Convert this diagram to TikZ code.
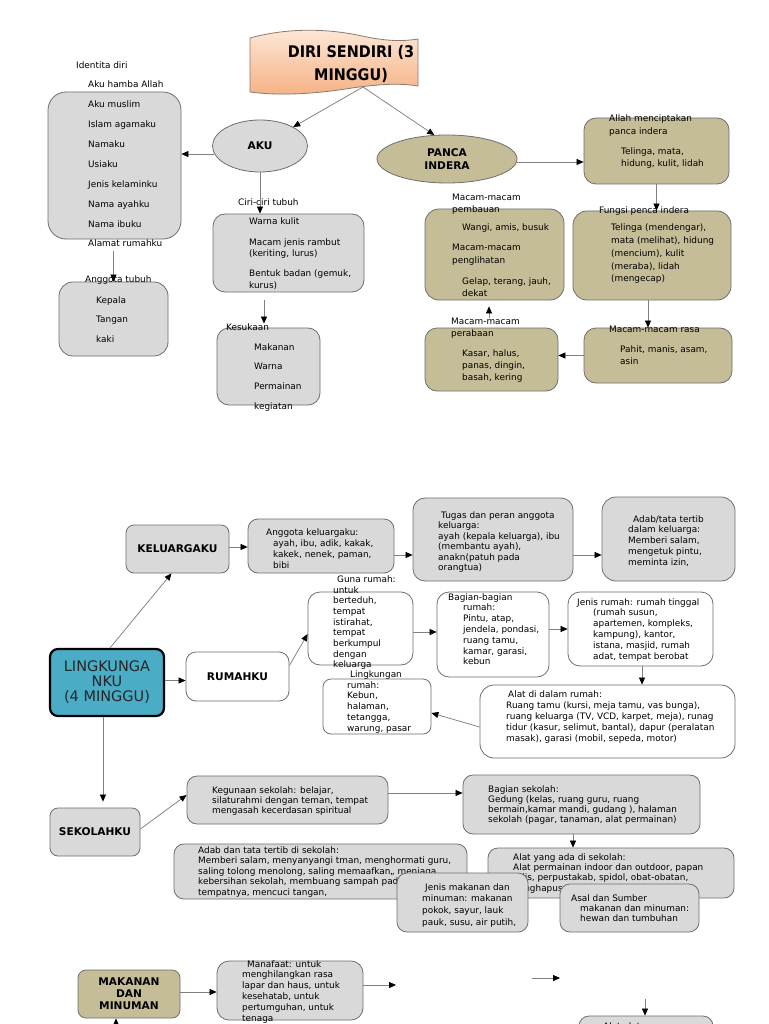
\documentclass[tikz,border=0pt]{standalone}
\usepackage{fontspec}
\setmainfont{DejaVu Sans}
\newfontfamily\titlefont[FakeStretch=0.9]{DejaVu Sans}
\usetikzlibrary{arrows.meta,shapes.geometric,calc}
\newcommand\blk[2]{\fontsize{8.9}{#1}\selectfont\begin{tabular}[t]{@{}l@{}}#2\end{tabular}}
\definecolor{boxgray}{HTML}{D9D9D9}
\definecolor{khaki}{HTML}{C4BD97}
\definecolor{lblue}{HTML}{4BACC6}
\definecolor{bord}{HTML}{6E6E6E}
\definecolor{peachT}{HTML}{FDE9D9}
\definecolor{peachB}{HTML}{F5B184}
\definecolor{titleb}{HTML}{8A7A70}
\tikzset{
  txt/.style={anchor=base west, inner sep=0pt, text=black},
  box/.style={draw=bord, line width=0.8pt, rounded corners=10pt, fill=boxgray},
  kbox/.style={box, fill=khaki},
  wbox/.style={box, fill=white},
  lab/.style={font=\bfseries\fontsize{10.6}{12.5}\selectfont, align=center, text=black},
  arr/.style={draw=gray, line width=0.75pt, -{Triangle[length=7pt,width=6pt,color=black,fill=black]}}
}
\begin{document}
\begin{tikzpicture}[x=1pt,y=-1pt]
\useasboundingbox (0,0) rectangle (768,1024);
\fill[white] (0,0) rectangle (768,1024);

% ---------- Title ----------
\shade[top color=peachT, bottom color=peachB, draw=titleb, line width=0.8pt]
 (250,38) .. controls (290,27) and (330,29) .. (362,36) .. controls (390,42) and (405,41) .. (418,39)
 -- (418,86) .. controls (400,83) and (380,84) .. (352,88) .. controls (315,94) and (280,96) .. (250,92) -- cycle;
\node[font=\titlefont\bfseries\fontsize{16}{23}\selectfont, align=center] (title) at (351,63.5) {DIRI SENDIRI (3\\MINGGU)};
\coordinate (tb) at (363,87);

% ---------- Top-left: AKU ----------
\node[box, minimum width=133pt, minimum height=147pt, rounded corners=18pt] (iden) at (114.5,165.5) {};
\node[box, minimum width=109pt, minimum height=74pt, rounded corners=14pt] (angt) at (113.5,319) {};
\node[box, ellipse, minimum width=95pt, minimum height=52pt, lab] (aku) at (260,146) {AKU};
\node[box, minimum width=151pt, minimum height=78pt, rounded corners=12pt] (ciri) at (288.5,253) {};
\node[box, minimum width=103pt, minimum height=77pt, rounded corners=12pt] (kes) at (268.5,366.5) {};

\node[txt] (tIdent) at (76,68.5) {\blk{11}{Identita diri}};
\node[txt] (tIden) at (88,87.5) {\blk{19.95}{Aku hamba Allah\\Aku muslim\\Islam agamaku\\Namaku\\Usiaku\\Jenis kelaminku\\Nama ayahku\\Nama ibuku}};
\node[txt] (tAlamat) at (88,247) {\blk{11}{Alamat rumahku}};
\node[txt] (tAngT) at (85,282) {\blk{11}{Anggota tubuh}};
\node[txt] (tAngL) at (96,303) {\blk{19.5}{Kepala\\Tangan\\kaki}};
\node[txt] (tCiriT) at (238,206) {\blk{11}{Ciri-ciri tubuh}};
\node[txt] (tCiri1) at (249,225) {\blk{11}{Warna kulit}};
\node[txt] (tCiri2) at (249,245) {\blk{11.5}{Macam jenis rambut\\(keriting, lurus)}};
\node[txt] (tCiri3) at (249,276) {\blk{12.5}{Bentuk badan (gemuk,\\kurus)}};
\node[txt] (tKesT) at (226,330) {\blk{11}{Kesukaan}};
\node[txt] (tKesL) at (254,350) {\blk{19.7}{Makanan\\Warna\\Permainan\\kegiatan}};

% ---------- Top-right: PANCA INDERA ----------
\node[kbox, ellipse, minimum width=140pt, minimum height=48pt, lab, font=\bfseries\fontsize{10.6}{13}\selectfont] (panca) at (447,159) {PANCA\\INDERA};
\node[kbox, minimum width=145pt, minimum height=66pt, rounded corners=12pt] (allah) at (656.5,151) {};
\node[kbox, minimum width=158pt, minimum height=89pt, rounded corners=14pt] (fungsi) at (652,255.5) {};
\node[kbox, minimum width=148pt, minimum height=55pt, rounded corners=12pt] (rasa) at (658,355.5) {};
\node[kbox, minimum width=133pt, minimum height=63pt, rounded corners=12pt] (perab) at (491.5,359.5) {};
\node[kbox, minimum width=139pt, minimum height=91pt, rounded corners=14pt] (pemb) at (494.5,254.5) {};

\node[txt] (tAl1) at (609,122) {\blk{12.5}{Allah menciptakan\\panca indera}};
\node[txt] (tAl2) at (621,155) {\blk{11.5}{Telinga, mata,\\hidung, kulit, lidah}};
\node[txt] (tFu1) at (599,214) {\blk{11}{Fungsi penca indera}};
\node[txt] (tFu2) at (611,231) {\blk{12.7}{Telinga (mendengar),\\mata (melihat), hidung\\(mencium), kulit\\(meraba), lidah\\(mengecap)}};
\node[txt] (tRa1) at (609,332) {\blk{11}{Macam-macam rasa}};
\node[txt] (tRa2) at (620,352) {\blk{12}{Pahit, manis, asam,\\asin}};
\node[txt] (tPe1) at (451,324) {\blk{12}{Macam-macam\\perabaan}};
\node[txt] (tPe2) at (462,356) {\blk{12}{Kasar, halus,\\panas, dingin,\\basah, kering}};
\node[txt] (tPb1) at (452,201) {\blk{12}{Macam-macam\\pembauan}};
\node[txt] (tPb2) at (462,231) {\blk{11}{Wangi, amis, busuk}};
\node[txt] (tPb3) at (452,251) {\blk{13}{Macam-macam\\penglihatan}};
\node[txt] (tPb4) at (462,284) {\blk{12}{Gelap, terang, jauh,\\dekat}};

% ---------- Top connectors ----------
\draw[arr] (tb) -- (aku);
\draw[arr] (tb) -- (panca.118);
\draw[arr] (aku.190) -- (aku.190 -| iden.east);
\draw[arr] (angt.north |- tAlamat.south) -- (angt.north);
\draw[arr] (aku.south) -- (aku.south |- ciri.north);
\coordinate (c1) at (264,300);
\draw[arr] (c1) -- ([yshift=4pt]c1 |- kes.north);
\draw[arr] ([yshift=-3pt]panca.east) -- ([yshift=-3pt]panca.east -| allah.west);
\draw[arr] (allah.south) -- (allah.south |- fungsi.north);
\draw[arr] ([xshift=-4pt]fungsi.south) -- ([xshift=-4pt]fungsi.south |- rasa.north);
\draw[arr] (rasa.west) -- (rasa.west -| perab.east);
\coordinate (p1) at (489,318);
\draw[arr] (p1) -- ([yshift=-6pt]p1 |- pemb.south);

% ---------- Middle: LINGKUNGANKU ----------
\node[box, fill=lblue, draw=black, line width=2.2pt, rounded corners=8pt, minimum width=114pt, minimum height=67pt, font=\fontsize{14.5}{15}\selectfont, align=center, text=black!85] (ling) at (107,682.5) {LINGKUNGA\\NKU\\(4 MINGGU)};
\node[box, minimum width=103pt, minimum height=48pt, rounded corners=8pt, lab] (kel) at (177.5,549) {KELUARGAKU};
\node[box, minimum width=146pt, minimum height=54pt] (angk) at (321,546) {};
\node[box, minimum width=160pt, minimum height=83pt, rounded corners=12pt] (tugas) at (493,539.5) {};
\node[box, minimum width=133pt, minimum height=84pt, rounded corners=14pt] (adab) at (668.5,539) {};
\node[wbox, minimum width=103pt, minimum height=49pt, lab] (rumah) at (237.5,676.5) {RUMAHKU};
\node[wbox, minimum width=105pt, minimum height=73pt, rounded corners=12pt] (guna) at (360.5,628.5) {};
\node[wbox, minimum width=112pt, minimum height=85pt, rounded corners=12pt] (bag) at (493,634.5) {};
\node[wbox, minimum width=145pt, minimum height=74pt, rounded corners=12pt] (jen) at (640.5,629) {};
\node[wbox, minimum width=255pt, minimum height=73pt, rounded corners=14pt] (alr) at (607.5,721.5) {};
\node[wbox, minimum width=108pt, minimum height=55pt, rounded corners=8pt] (lingk) at (377,706.5) {};

\node[txt] (tAngk) at (266,535) {\blk{11}{Anggota keluargaku:\\\hspace*{7pt}ayah, ibu, adik, kakak,\\\hspace*{7pt}kakek, nenek, paman,\\\hspace*{7pt}bibi}};
\node[txt] (tTugas) at (438,518) {\blk{10.5}{\hspace*{3pt}Tugas dan peran anggota\\keluarga:\\ayah (kepala keluarga), ibu\\(membantu ayah),\\anakn(patuh pada\\orangtua)}};
\node[txt] (tAdab) at (628,522) {\blk{10.8}{\hspace*{5pt}Adab/tata tertib\\dalam keluarga:\\Memberi salam,\\mengetuk pintu,\\meminta izin,}};
\node[txt] (tGuna1) at (337,582) {\blk{11}{Guna rumah:}};
\node[txt] (tGuna2) at (333,593) {\blk{10.7}{untuk\\berteduh,\\tempat\\istirahat,\\tempat\\berkumpul\\dengan\\keluarga}};
\node[txt] (tBag) at (448,600) {\blk{10.8}{Bagian-bagian\\\hspace*{15pt}rumah:\\\hspace*{15pt}Pintu, atap,\\\hspace*{15pt}jendela, pondasi,\\\hspace*{15pt}ruang tamu,\\\hspace*{15pt}kamar, garasi,\\\hspace*{15pt}kebun}};
\node[txt] (tJen) at (577,605) {\blk{10.8}{Jenis rumah: rumah tinggal\\\hspace*{16pt}(rumah susun,\\\hspace*{16pt}apartemen, kompleks,\\\hspace*{16pt}kampung), kantor,\\\hspace*{16pt}istana, masjid, rumah\\\hspace*{16pt}adat, tempat berobat}};
\node[txt] (tAlr) at (506,697) {\blk{11}{\hspace*{2pt}Alat di dalam rumah:\\Ruang tamu (kursi, meja tamu, vas bunga),\\ruang keluarga (TV, VCD, karpet, meja), runag\\tidur (kasur, selimut, bantal), dapur (peralatan\\masak), garasi (mobil, sepeda, motor)}};
\node[txt] (tLingk1) at (350,677) {\blk{11}{Lingkungan}};
\node[txt] (tLingk2) at (347,688) {\blk{10.8}{rumah:\\Kebun,\\halaman,\\tetangga,\\warung, pasar}};

\draw[arr] ([xshift=3pt]ling.north) -- ([xshift=-6pt]kel.south);
\draw[arr] ([yshift=2pt]kel.east) -- ([yshift=2pt]kel.east -| angk.west);
\draw[arr] ([yshift=-9pt]angk.east) -- ([yshift=-9pt]angk.east -| tugas.west);
\draw[arr] ([yshift=-15.5pt]tugas.east) -- ([yshift=-15.5pt]tugas.east -| adab.west);
\draw[arr] ([yshift=2pt]ling.east) -- ([yshift=2pt]ling.east -| rumah.west);
\draw[arr] ([yshift=11pt]rumah.east) -- ([yshift=-5.5pt]guna.west);
\draw[arr] ([yshift=-3.5pt]guna.east) -- ([yshift=-3.5pt]guna.east -| bag.west);
\draw[arr] ([yshift=5.5pt]bag.east) -- ([yshift=5.5pt]bag.east -| jen.west);
\draw[arr] ([xshift=1.5pt]jen.south) -- ([xshift=1.5pt]jen.south |- alr.north);
\draw[arr] ([yshift=-5.5pt]alr.west) -- ([yshift=-6.5pt]lingk.east);

% ---------- Bottom: SEKOLAHKU ----------
\node[box, minimum width=90pt, minimum height=48pt, rounded corners=8pt, lab] (sek) at (95,832) {SEKOLAHKU};
\node[box, minimum width=201pt, minimum height=48pt] (keg) at (287.5,800) {};
\node[box, minimum width=237pt, minimum height=59pt] (bsek) at (581.5,804.5) {};
\node[box, minimum width=246pt, minimum height=50pt] (alats) at (611,873) {};
\node[box, minimum width=293pt, minimum height=55pt] (adabs) at (320.5,871.5) {};

\node[txt] (tKeg) at (212,793) {\blk{10.3}{Kegunaan sekolah: belajar,\\silaturahmi dengan teman, tempat\\mengasah kecerdasan spiritual}};
\node[txt] (tBsek) at (488,792) {\blk{10.2}{Bagian sekolah:\\Gedung (kelas, ruang guru, ruang\\bermain,kamar mandi, gudang ), halaman\\sekolah (pagar, tanaman, alat permainan)}};
\node[txt] (tAlats) at (513,860) {\blk{10.4}{Alat yang ada di sekolah:\\Alat permainan indoor dan outdoor, papan\\tulis, perpustakab, spidol, obat-obatan,\\penghapus}};
\node[txt] (tAdabs) at (198,853) {\blk{10.5}{Adab dan tata tertib di sekolah:\\Memberi salam, menyanyangi tman, menghormati guru,\\saling tolong menolong, saling memaafkan,, menjaga\\kebersihan sekolah, membuang sampah pada\\tempatnya, mencuci tangan,}};

\node[box, minimum width=131pt, minimum height=59pt] (jmak) at (462.5,902.5) {};
\node[txt] (tJmak) at (422,890) {\blk{11.7}{\hspace*{3pt}Jenis makanan dan\\minuman: makanan\\pokok, sayur, lauk\\pauk, susu, air putih,}};
\node[box, minimum width=139pt, minimum height=48pt] (asal) at (629.5,908) {};
\node[txt] (tAsal) at (571,901) {\blk{10.2}{Asal dan Sumber\\\hspace*{9pt}makanan dan minuman:\\\hspace*{9pt}hewan dan tumbuhan}};

\draw[arr] ([xshift=-4pt]ling.south) -- ([xshift=-4pt,yshift=6pt]ling.south |- sek.north);
\draw[arr] ([yshift=3pt]sek.east) -- ([yshift=5pt]keg.west);
\draw[arr] ([yshift=7pt]keg.east) -- ([yshift=7pt]keg.east -| bsek.west);
\draw[arr] ([xshift=-8.5pt]bsek.south) -- ([xshift=-8.5pt]bsek.south |- alats.north);

% ---------- Bottom: MAKANAN DAN MINUMAN ----------
\node[kbox, minimum width=102pt, minimum height=48pt, rounded corners=8pt, lab, font=\bfseries\fontsize{10.6}{12}\selectfont] (mak) at (129,994) {MAKANAN\\DAN\\MINUMAN};
\node[box, minimum width=146pt, minimum height=59pt, rounded corners=12pt] (manf) at (290,990.5) {};
\node[txt] (tManf) at (242,967) {\blk{10.8}{\hspace*{5pt}Manafaat: untuk\\menghilangkan rasa\\lapar dan haus, untuk\\kesehatab, untuk\\pertumguhan, untuk\\tenaga}};
\node[box, minimum width=134pt, minimum height=28pt, rounded corners=10pt] (aa) at (646,1030) {};
\node[txt] (tAa) at (603,1029) {\blk{11}{Alat alat}};

\draw[arr] ([yshift=2pt]mak.east) -- ([yshift=2pt]mak.east -| manf.west);
\coordinate (f1) at (396,985);
\draw[arr] ([yshift=5.5pt]manf.east) -- (f1);
\coordinate (f2) at (532,978);
\coordinate (f3) at (560,978);
\draw[arr] (f2) -- (f3);
\coordinate (f4) at (645,999);
\draw[arr] (f4) -- (f4 |- aa.north);
\coordinate (m0) at (116,1032);
\draw[arr] (m0) -- (m0 |- mak.south);
\end{tikzpicture}
\end{document}
